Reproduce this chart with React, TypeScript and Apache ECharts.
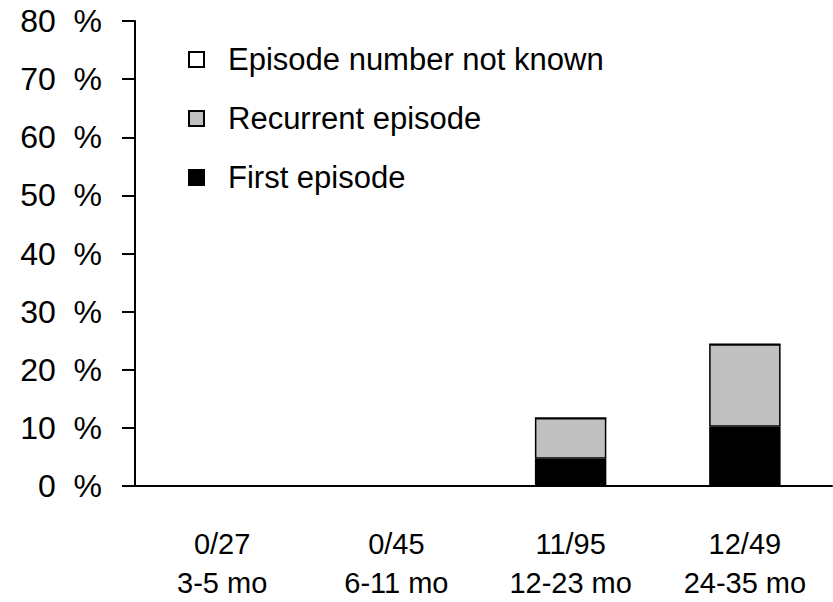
import React, { useEffect, useRef } from "react";
import * as echarts from "echarts";

const counts = ["0/27", "0/45", "11/95", "12/49"];
const ages = ["3-5 mo", "6-11 mo", "12-23 mo", "24-35 mo"];
const firstEpisode = [0, 0, 4.7, 10.2];
const recurrentEpisode = [0, 0, 7.0, 14.2];
const unknownEpisode = [0, 0, 0, 0];
const yTicks = [0, 10, 20, 30, 40, 50, 60, 70, 80];

export default function App() {
  const ref = useRef<HTMLDivElement>(null);
  useEffect(() => {
    const chart = echarts.init(ref.current!, null, { renderer: "svg" });
    const cats = counts.map((c, i) => `${c}\n${ages[i]}`);
    const border = { borderColor: "#000", borderWidth: 1.5 };
    chart.setOption({
      animation: false,
      grid: { left: 135, right: 1, top: 21, bottom: 116 },
      legend: {
        orient: "vertical",
        left: 188,
        top: 44,
        padding: 0,
        itemWidth: 15,
        itemHeight: 15,
        itemGap: 28,
        icon: "rect",
        data: ["Episode number not known", "Recurrent episode", "First episode"],
        textStyle: {
          fontFamily: "Liberation Sans, Arial, sans-serif",
          fontSize: 31,
          color: "#000",
          padding: [0, 0, 0, 19],
        },
      },
      xAxis: {
        type: "category",
        data: cats,
        axisLine: { lineStyle: { color: "#000", width: 2 } },
        axisTick: { show: false },
        axisLabel: {
          interval: 0,
          color: "#000",
          fontFamily: "Liberation Sans, Arial, sans-serif",
          fontSize: 29,
          lineHeight: 39,
          margin: 38,
        },
      },
      yAxis: {
        type: "value",
        min: yTicks[0],
        max: yTicks[yTicks.length - 1],
        interval: 10,
        splitLine: { show: false },
        axisLine: { show: true, lineStyle: { color: "#000", width: 2 } },
        axisTick: { show: true, inside: false, length: 13, lineStyle: { color: "#000", width: 2 } },
        axisLabel: {
          color: "#000",
          fontFamily: "Liberation Sans, Arial, sans-serif",
          fontSize: 32,
          margin: 33,
          formatter: (v: number) => `${v}\u00a0\u00a0%`,
        },
      },
      series: [
        {
          name: "First episode",
          type: "bar",
          stack: "a",
          data: firstEpisode,
          barWidth: "41%",
          itemStyle: { color: "#000", ...border },
        },
        {
          name: "Recurrent episode",
          type: "bar",
          stack: "a",
          data: recurrentEpisode,
          itemStyle: { color: "#c0c0c0", ...border },
        },
        {
          name: "Episode number not known",
          type: "bar",
          stack: "a",
          data: unknownEpisode,
          itemStyle: { color: "#fff", ...border },
        },
      ],
    });
    return () => chart.dispose();
  }, []);
  return <div ref={ref} style={{ width: 833, height: 602, position: "absolute", left: 0, top: 0, background: "#fff" }} />;
}
